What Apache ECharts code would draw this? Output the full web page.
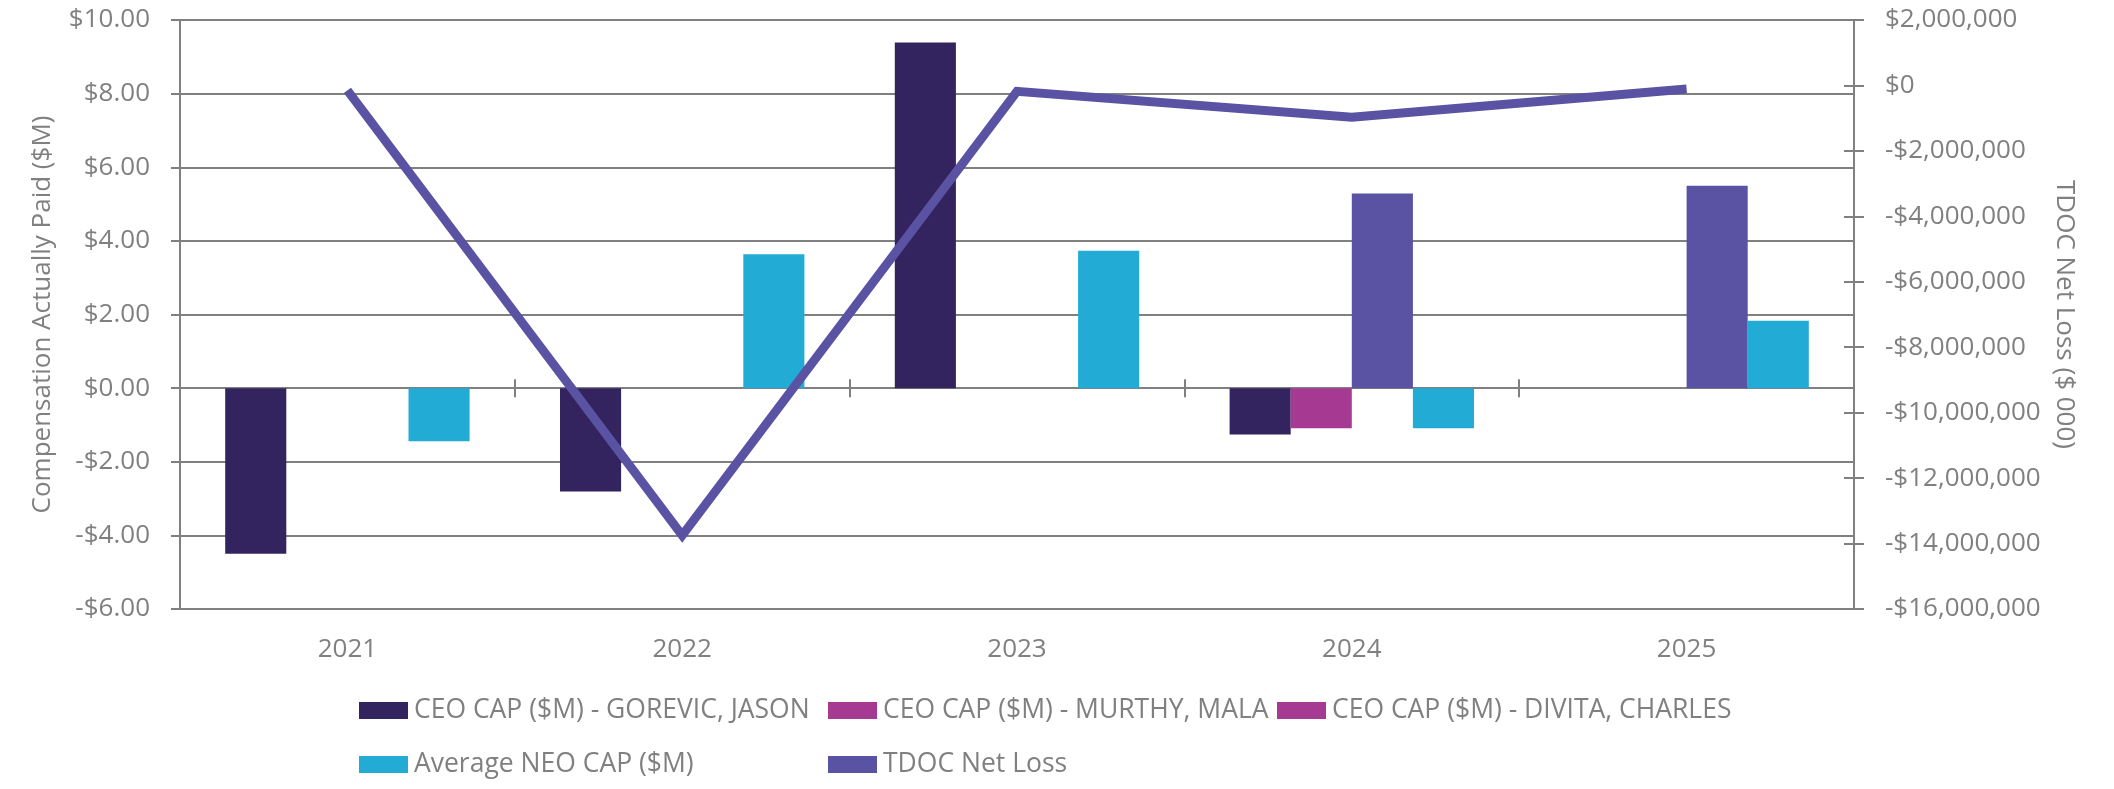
<!DOCTYPE html>
<html>
<head>
<meta charset="utf-8">
<script src="https://cdn.jsdelivr.net/npm/echarts@6/dist/echarts.min.js"></script>
<style>
html,body{margin:0;padding:0;background:#fff;}
#chart{width:2114px;height:789px;}
</style>
</head>
<body>
<div id="chart"></div>
<script>
const years = ['2021', '2022', '2023', '2024', '2025'];
const seriesNames = [
  'CEO CAP ($M) - GOREVIC, JASON',
  'CEO CAP ($M) - MURTHY, MALA',
  'CEO CAP ($M) - DIVITA, CHARLES',
  'Average NEO CAP ($M)',
  'TDOC Net Loss'
];
const gorevic = [-4.50, -2.81, 9.39, -1.26, null];
const murthy  = [null, null, null, -1.09, null];
const divita  = [null, null, null, 5.29, 5.50];
const neoAvg  = [-1.44, 3.64, 3.73, -1.09, 1.83];
const netLoss = [-150000, -13750000, -180000, -970000, -110000];
const leftAxisTitle = 'Compensation Actually Paid ($M)';
const rightAxisTitle = 'TDOC Net Loss ($ 000)';

const GRAY = '#808080';
const FONT = "'Open Sans', sans-serif";

function fmtLeft(v) {
  const s = '$' + Math.abs(v).toFixed(2);
  return v < 0 ? '-' + s : s;
}
function fmtRight(v) {
  const s = '$' + Math.abs(v).toLocaleString('en-US');
  return v < 0 ? '-' + s : s;
}

const chart = echarts.init(document.getElementById('chart'), null, {renderer: 'canvas'});

function legendAt(name, left, top, color) {
  const item = color ? {name: name, itemStyle: {color: color}} : {name: name};
  return {
    data: [item], left: left, top: top, padding: 0,
    icon: 'rect', itemWidth: 49, itemHeight: 17, itemGap: 0,
    selectedMode: false,
    textStyle: {color: GRAY, fontFamily: FONT, fontSize: 26.5, padding: [0, 0, 0, 1]}
  };
}

const catAxisBase = {
  type: 'category', data: years, boundaryGap: true
};

const option = {
  backgroundColor: '#ffffff',
  animation: false,
  grid: {left: 180, right: 260, top: 20, bottom: 180, containLabel: false},
  legend: [
    legendAt(seriesNames[0], 359, 697),
    legendAt(seriesNames[1], 828, 697),
    legendAt(seriesNames[2], 1277, 697, '#a63a92'),
    legendAt(seriesNames[3], 359, 751),
    legendAt(seriesNames[4], 828, 751)
  ],
  xAxis: [
    Object.assign({}, catAxisBase, {
      position: 'bottom',
      axisLine: {show: false, onZero: false},
      axisTick: {show: false},
      splitLine: {show: false},
      axisLabel: {color: GRAY, fontFamily: FONT, fontSize: 26, margin: 28}
    }),
    Object.assign({}, catAxisBase, {
      position: 'bottom',
      axisLine: {show: true, onZero: true, onZeroAxisIndex: 0, lineStyle: {color: GRAY, width: 2}},
      axisTick: {show: true, inside: false, length: 9, lineStyle: {color: GRAY, width: 2}},
      axisLabel: {show: false},
      splitLine: {show: false}
    }),
    Object.assign({}, catAxisBase, {
      position: 'bottom',
      axisLine: {show: false, onZero: true, onZeroAxisIndex: 0},
      axisTick: {show: true, inside: true, length: 9, lineStyle: {color: GRAY, width: 2}},
      axisLabel: {show: false},
      splitLine: {show: false}
    })
  ],
  yAxis: [
    {
      type: 'value', position: 'left', min: -6, max: 10, interval: 2,
      name: leftAxisTitle, nameLocation: 'middle', nameGap: 124,
      nameTextStyle: {color: GRAY, fontFamily: FONT, fontSize: 26},
      axisLine: {show: true, lineStyle: {color: GRAY, width: 2}},
      axisTick: {show: true, length: 9, lineStyle: {color: GRAY, width: 2}},
      splitLine: {show: true, lineStyle: {color: GRAY, width: 2}},
      axisLabel: {color: GRAY, fontFamily: FONT, fontSize: 26, margin: 30, formatter: fmtLeft}
    },
    {
      type: 'value', position: 'right', min: -16000000, max: 2000000, interval: 2000000,
      name: rightAxisTitle, nameLocation: 'middle', nameGap: 190, nameRotate: -90,
      nameTextStyle: {color: GRAY, fontFamily: FONT, fontSize: 26},
      axisLine: {show: true, lineStyle: {color: GRAY, width: 2}},
      axisTick: {show: true, length: 10, lineStyle: {color: GRAY, width: 2}},
      splitLine: {show: false},
      axisLabel: {color: GRAY, fontFamily: FONT, fontSize: 26, margin: 31, formatter: fmtRight}
    },
    {
      type: 'value', position: 'right', min: -16000000, max: 2000000, interval: 2000000,
      axisLine: {show: false},
      axisTick: {show: true, inside: true, length: 10, lineStyle: {color: GRAY, width: 2}},
      splitLine: {show: false},
      axisLabel: {show: false}
    }
  ],
  series: [
    {name: seriesNames[0], type: 'bar', data: gorevic, yAxisIndex: 0,
     barGap: '0%', barCategoryGap: '27%', itemStyle: {color: '#33235f'}},
    {name: seriesNames[1], type: 'bar', data: murthy, yAxisIndex: 0,
     barGap: '0%', barCategoryGap: '27%', itemStyle: {color: '#a63a92'}},
    {name: seriesNames[2], type: 'bar', data: divita, yAxisIndex: 0,
     barGap: '0%', barCategoryGap: '27%', itemStyle: {color: '#5a52a3'}},
    {name: seriesNames[3], type: 'bar', data: neoAvg, yAxisIndex: 0,
     barGap: '0%', barCategoryGap: '27%', itemStyle: {color: '#22abd5'}},
    {name: seriesNames[4], type: 'line', data: netLoss, yAxisIndex: 1,
     symbol: 'none', z: 5,
     lineStyle: {color: '#5a52a3', width: 9, join: 'miter', cap: 'butt'},
     itemStyle: {color: '#5a52a3'}}
  ]
};
chart.setOption(option);
</script>
</body>
</html>
